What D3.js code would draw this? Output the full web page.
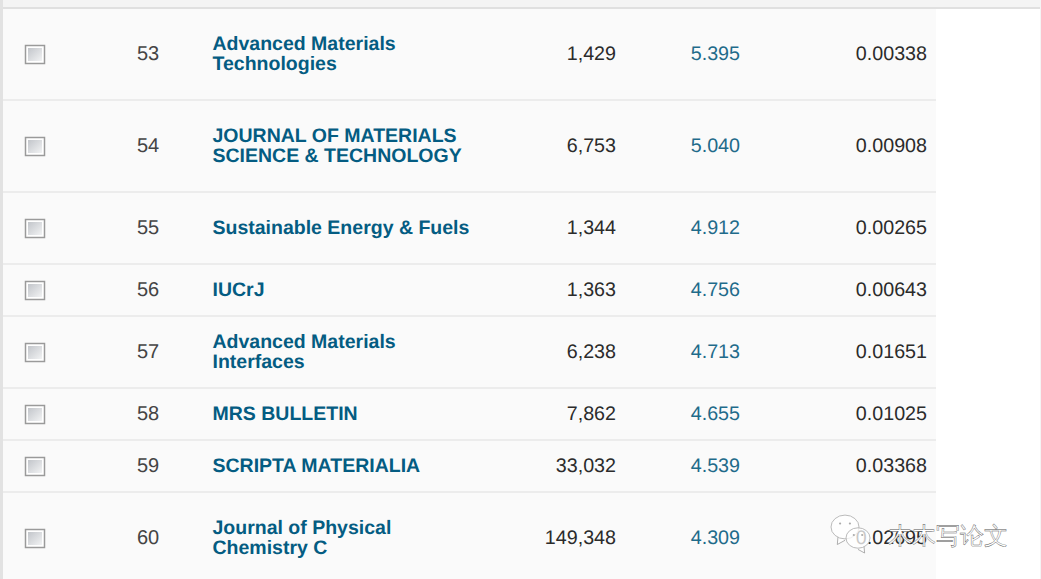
<!DOCTYPE html>
<html>
<head>
<meta charset="utf-8">
<script src="https://d3js.org/d3.v7.min.js"></script>
<style>
  html, body { margin: 0; padding: 0; background: #fff; }
  svg { display: block; }
  text { font-family: "Liberation Sans", Arial, sans-serif; text-rendering: geometricPrecision; }
</style>
</head>
<body>
<div id="chart"></div>
<script>
// Table values
var ranks = ["53", "54", "55", "56", "57", "58", "59", "60"];
var titles = [
  ["Advanced Materials", "Technologies"],
  ["JOURNAL OF MATERIALS", "SCIENCE & TECHNOLOGY"],
  ["Sustainable Energy & Fuels"],
  ["IUCrJ"],
  ["Advanced Materials", "Interfaces"],
  ["MRS BULLETIN"],
  ["SCRIPTA MATERIALIA"],
  ["Journal of Physical", "Chemistry C"]
];
var citations = ["1,429", "6,753", "1,344", "1,363", "6,238", "7,862", "33,032", "149,348"];
var impact = ["5.395", "5.040", "4.912", "4.756", "4.713", "4.655", "4.539", "4.309"];
var eigen = ["0.00338", "0.00908", "0.00265", "0.00643", "0.01651", "0.01025", "0.03368", "0.02695"];

// Page layout
var width = 1041, height = 579;
var tableLeft = 3, tableRight = 936, tableTop = 8;
var rowHeights = [92, 92, 72, 52, 72, 52, 52, 92];
var rowTops = d3.range(ranks.length).map(i => tableTop + d3.sum(rowHeights.slice(0, i)));

var svg = d3.select("#chart").append("svg")
  .attr("width", width)
  .attr("height", height);

// Checkbox gradient
var grad = svg.append("defs").append("linearGradient")
  .attr("id", "boxFill")
  .attr("x1", 0).attr("y1", 0).attr("x2", 1).attr("y2", 1);
grad.append("stop").attr("offset", "0%").attr("stop-color", "#c2c5ca");
grad.append("stop").attr("offset", "100%").attr("stop-color", "#f2f3f4");

// Page background
svg.append("rect").attr("width", tableRight).attr("height", height).attr("fill", "#fafafa");
svg.append("rect").attr("width", width).attr("height", 7).attr("fill", "#f4f4f4");
svg.append("rect").attr("y", 7).attr("width", width).attr("height", 2).attr("fill", "#e0e0e0");
svg.append("rect").attr("width", tableLeft).attr("height", height).attr("fill", "#e2e2e2");
svg.append("rect").attr("x", width - 1).attr("width", 1).attr("height", height).attr("fill", "#f4f4f4");

var rows = svg.selectAll(".row")
  .data(ranks)
  .enter()
  .append("g")
  .attr("class", "row")
  .attr("transform", (d, i) => `translate(0, ${rowTops[i]})`);

// Row separators
rows.filter((d, i) => i > 0).append("rect")
  .attr("x", tableLeft)
  .attr("y", -1)
  .attr("width", tableRight - tableLeft)
  .attr("height", 2)
  .attr("fill", "#ececec");

// Checkboxes: grey frame, white inner edge, gradient face
rows.append("rect")
  .attr("x", 25.5)
  .attr("y", (d, i) => rowHeights[i] / 2 - 8.5)
  .attr("width", 19)
  .attr("height", 18)
  .attr("fill", "#fff")
  .attr("stroke", "#9a9a9a")
  .attr("stroke-width", 1.5);
rows.append("rect")
  .attr("x", 28)
  .attr("y", (d, i) => rowHeights[i] / 2 - 6)
  .attr("width", 14)
  .attr("height", 13)
  .attr("fill", "url(#boxFill)");

function cell(x, anchor, color, size, values) {
  rows.append("text")
    .attr("x", x)
    .attr("y", (d, i) => rowHeights[i] / 2 + 6)
    .attr("text-anchor", anchor)
    .attr("font-size", size)
    .attr("fill", color)
    .text((d, i) => values[i]);
}

cell(137, "start", "#444", 20, ranks);
cell(616, "end", "#2b2b2b", 19.7, citations);
cell(740, "end", "#1f6b8a", 19.7, impact);
cell(927, "end", "#2b2b2b", 19.7, eigen);

// Journal titles, one or two lines
rows.each(function(d, i) {
  var lines = titles[i];
  d3.select(this).selectAll(".title")
    .data(lines)
    .enter()
    .append("text")
    .attr("class", "title")
    .attr("x", 212.5)
    .attr("y", (t, j) => rowHeights[i] / 2 + 6 + (j - (lines.length - 1) / 2) * 20)
    .attr("font-size", 19.5)
    .attr("font-weight", "bold")
    .attr("fill", "#045c82")
    .text(t => t);
});

// Watermark
var mark = svg.append("g");
function bubble(x, y, r, flip) {
  var g = mark.append("g").attr("transform", `translate(${x}, ${y}) scale(${flip}, 1)`);
  g.append("path")
    .attr("d", d3.line()([[-r * 0.5, r * 0.7], [-r * 0.55, r * 1.25], [0, r * 0.95]]))
    .attr("fill", "#fff").attr("stroke", "#999").attr("stroke-width", 0.8);
  g.append("ellipse")
    .attr("rx", r).attr("ry", r * 0.85)
    .attr("fill", "#fff").attr("fill-opacity", 0.75).attr("stroke", "#aaa").attr("stroke-width", 0.8);
  [-0.35, 0.35].forEach(k => g.append("circle")
    .attr("cx", r * k).attr("cy", -r * 0.25).attr("r", 1.1).attr("fill", "#aaa"));
}
bubble(845, 527, 14, 1);
bubble(858, 538, 12, -1);

mark.append("text")
  .attr("x", 888).attr("y", 544)
  .attr("font-size", 24)
  .attr("font-family", "'Noto Sans CJK SC'")
  .attr("fill", "#fff")
  .attr("stroke", "#555")
  .attr("stroke-width", 0.4)
  .text("木木写论文");
</script>
</body>
</html>
